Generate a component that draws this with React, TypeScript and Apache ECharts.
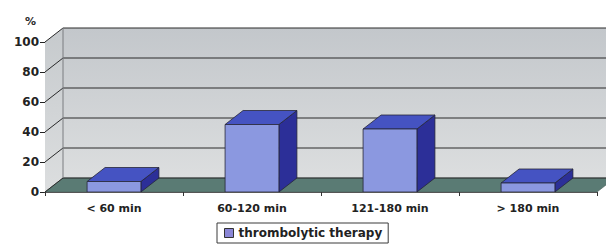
import React, { useEffect, useRef } from "react";
import * as echarts from "echarts";

const categories = ["< 60 min", "60-120 min", "121-180 min", "> 180 min"];
const values = [7, 45, 42, 6];
const seriesName = "thrombolytic therapy";
const yMin = 0;
const yMax = 100;
const yStep = 20;

const DX = 18;
const DY = -14;
const FONT = "DejaVu Sans";

export default function App() {
  const ref = useRef<HTMLDivElement>(null);

  useEffect(() => {
    if (!ref.current) return;
    const chart = echarts.init(ref.current, undefined, { renderer: "svg" });

    const tickValues: number[] = [];
    for (let v = yMin; v <= yMax; v += yStep) tickValues.push(v);

    const option: any = {
      animation: false,
      backgroundColor: "#ffffff",
      grid: { left: 45, right: 9, top: 42, bottom: 56 },
      graphic: [
        {
          type: "text",
          left: 25,
          top: 16,
          style: { text: "%", font: `bold 11px "${FONT}"`, fill: "#2a2a2a" },
        },
      ],
      legend: {
        data: [seriesName],
        left: 217,
        top: 223,
        width: 172,
        padding: [4, 6, 4, 7],
        borderColor: "#3a3a3a",
        borderWidth: 1,
        borderRadius: 0,
        icon: "rect",
        itemWidth: 9,
        itemHeight: 9,
        itemStyle: { color: "#8a86d6", borderColor: "#333", borderWidth: 1 },
        textStyle: { fontFamily: FONT, fontWeight: "bold", fontSize: 12, color: "#222" },
      },
      xAxis: {
        type: "category",
        data: categories,
        boundaryGap: true,
        axisLine: { show: true, lineStyle: { color: "#555", width: 1 } },
        axisTick: { show: true, length: 4, lineStyle: { color: "#333" } },
        axisLabel: {
          margin: 11,
          fontFamily: FONT,
          fontWeight: "bold",
          fontSize: 11,
          color: "#222",
        },
        splitLine: { show: false },
        z: 5,
      },
      yAxis: {
        type: "value",
        min: yMin,
        max: yMax,
        interval: yStep,
        axisLine: { show: true, lineStyle: { color: "#222", width: 1 } },
        axisTick: { show: true, length: 5, lineStyle: { color: "#222" } },
        axisLabel: {
          margin: 6,
          fontFamily: FONT,
          fontWeight: "bold",
          fontSize: 12,
          color: "#222",
        },
        splitLine: { show: false },
      },
      series: [
        {
          type: "custom",
          name: "background",
          silent: true,
          z: 1,
          data: [[0, 0]],
          renderItem: (params: any, api: any) => {
            const cs = params.coordSys;
            const x0 = cs.x;
            const x1 = cs.x + cs.width;
            const yb = api.coord([0, yMin])[1];
            const yt = api.coord([0, yMax])[1];
            const children: any[] = [];
            children.push({
              type: "rect",
              shape: { x: x0 + DX, y: yt + DY, width: x1 - x0, height: yb - yt },
              style: {
                fill: new echarts.graphic.LinearGradient(0, 0, 0, 1, [
                  { offset: 0, color: "#c3c7cb" },
                  { offset: 1, color: "#dcdedf" },
                ]),
              },
            });
            children.push({
              type: "polygon",
              shape: { points: [[x0, yt], [x0 + DX, yt + DY], [x0 + DX, yb + DY], [x0, yb]] },
              style: {
                fill: new echarts.graphic.LinearGradient(0, 0, 0, 1, [
                  { offset: 0, color: "#c6cacd" },
                  { offset: 1, color: "#dcdedf" },
                ]),
              },
            });
            children.push({
              type: "polygon",
              shape: { points: [[x0, yb], [x0 + DX, yb + DY], [x1 + DX, yb + DY], [x1, yb]] },
              style: { fill: "#5a7b74", stroke: "#4a5f5a", lineWidth: 0.6 },
            });
            tickValues.forEach((v) => {
              const y = api.coord([0, v])[1];
              children.push({
                type: "polyline",
                shape: { points: [[x0, y], [x0 + DX, y + DY], [x1 + DX, y + DY]] },
                style: { fill: null, stroke: "#2a2a2a", lineWidth: 1 },
              });
            });
            children.push({
              type: "line",
              shape: { x1: x0 + DX, y1: yt + DY, x2: x0 + DX, y2: yb + DY },
              style: { stroke: "#7a7d80", lineWidth: 1 },
            });
            return { type: "group", children };
          },
        },
        {
          type: "custom",
          name: seriesName,
          z: 3,
          itemStyle: { color: "#8a86d6", borderColor: "#333", borderWidth: 1 },
          data: values.map((v, i) => [i, v]),
          encode: { x: 0, y: 1 },
          renderItem: (params: any, api: any) => {
            const i = api.value(0);
            const v = api.value(1);
            const top = api.coord([i, v]);
            const base = api.coord([i, 0]);
            const bw = api.size([1, 0])[0] * 0.39;
            const l = top[0] - bw / 2;
            const r = top[0] + bw / 2;
            const t = top[1];
            const b = base[1];
            const stroke = "#262638";
            const lw = 0.8;
            return {
              type: "group",
              children: [
                {
                  type: "polygon",
                  shape: { points: [[r, t], [r + DX, t + DY], [r + DX, b + DY], [r, b]] },
                  style: { fill: "#2c2f98", stroke, lineWidth: lw },
                },
                {
                  type: "polygon",
                  shape: { points: [[l, t], [l + DX, t + DY], [r + DX, t + DY], [r, t]] },
                  style: { fill: "#4553c2", stroke, lineWidth: lw },
                },
                {
                  type: "rect",
                  shape: { x: l, y: t, width: r - l, height: b - t },
                  style: { fill: "#8b98e0", stroke, lineWidth: lw },
                },
              ],
            };
          },
        },
      ],
    };

    chart.setOption(option);
    return () => chart.dispose();
  }, []);

  return (
    <div
      ref={ref}
      style={{ position: "absolute", left: 0, top: 0, width: 606, height: 248 }}
    />
  );
}
